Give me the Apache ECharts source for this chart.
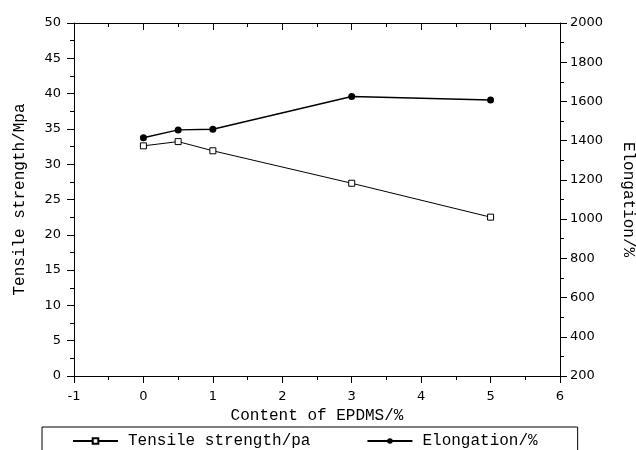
<!DOCTYPE html>
<html>
<head>
<meta charset="utf-8">
<script src="https://cdn.jsdelivr.net/npm/echarts@6/dist/echarts.min.js"></script>
<style>html,body{margin:0;padding:0;background:#fff;}#c{width:636px;height:450px;}</style>
</head>
<body>
<div id="c"></div>
<script>
var content = [0, 0.5, 1, 3, 5];
var tensile = [32.6, 33.2, 31.9, 27.3, 22.5];
var elongation = [1415, 1455, 1458, 1625, 1607];
var xName = 'Content of EPDMS/%';
var yLeftName = 'Tensile strength/Mpa';
var yRightName = 'Elongation/%';
var legendNames = ['Tensile strength/pa', 'Elongation/%'];

var mono = 'Liberation Mono';
var sans = 'DejaVu Sans';

function pairs(xs, ys) { return xs.map(function (x, i) { return [x, ys[i]]; }); }

var axisLine = { show: true, onZero: false, lineStyle: { color: '#000', width: 1 } };
var chart = echarts.init(document.getElementById('c'));
chart.setOption({
  animation: false,
  backgroundColor: '#fff',
  grid: { left: 74, right: 76, top: 23, bottom: 74, containLabel: false, outerBoundsMode: 'none' },
  legend: {
    data: legendNames,
    left: 42, top: 427,
    padding: [6, 40, 20, 30],
    borderColor: '#000', borderWidth: 1,
    itemWidth: 45, itemHeight: 7, itemGap: 56,
    textStyle: { fontFamily: mono, fontSize: 16, color: '#000', padding: [0, 0, 0, 5] }
  },
  xAxis: [{
    type: 'value', min: -1, max: 6, interval: 1, position: 'bottom',
    name: xName, nameLocation: 'middle', nameGap: 28,
    nameTextStyle: { fontFamily: mono, fontSize: 16, color: '#000' },
    axisLine: axisLine,
    axisTick: { show: true, inside: false, length: 7, lineStyle: { color: '#000' } },
    minorTick: { show: true, splitNumber: 2, length: 4, lineStyle: { color: '#000' } },
    axisLabel: { fontFamily: sans, fontSize: 13, color: '#000', margin: 14 },
    splitLine: { show: false }
  }, {
    type: 'value', min: -1, max: 6, interval: 1, position: 'top',
    axisLine: axisLine,
    axisTick: { show: true, inside: true, length: 7, lineStyle: { color: '#000' } },
    minorTick: { show: true, splitNumber: 2, length: 4, lineStyle: { color: '#000' } },
    axisLabel: { show: false },
    splitLine: { show: false }
  }],
  yAxis: [{
    type: 'value', min: 0, max: 50, interval: 5, position: 'left',
    name: yLeftName, nameLocation: 'middle', nameGap: 46,
    nameTextStyle: { fontFamily: mono, fontSize: 16, color: '#000' },
    axisLine: axisLine,
    axisTick: { show: true, inside: false, length: 7, lineStyle: { color: '#000' } },
    minorTick: { show: true, splitNumber: 2, length: 4, lineStyle: { color: '#000' } },
    axisLabel: { fontFamily: sans, fontSize: 13, color: '#000', margin: 13 },
    splitLine: { show: false }
  }, {
    type: 'value', min: 200, max: 2000, interval: 200, position: 'right',
    name: yRightName, nameLocation: 'middle', nameGap: 60, nameRotate: -90,
    nameTextStyle: { fontFamily: mono, fontSize: 16, color: '#000' },
    axisLine: axisLine,
    axisTick: { show: true, inside: false, length: 7, lineStyle: { color: '#000' } },
    minorTick: { show: true, splitNumber: 2, length: 4, lineStyle: { color: '#000' } },
    axisLabel: { fontFamily: sans, fontSize: 13, color: '#000', margin: 10,
      formatter: function (v) { return String(v); } },
    splitLine: { show: false }
  }],
  series: [{
    name: legendNames[0], type: 'line', xAxisIndex: 0, yAxisIndex: 0,
    data: pairs(content, tensile),
    symbol: 'rect', symbolSize: 6,
    lineStyle: { color: '#000', width: 1 },
    itemStyle: { color: '#fff', borderColor: '#000', borderWidth: 1 }
  }, {
    name: legendNames[1], type: 'line', xAxisIndex: 0, yAxisIndex: 1,
    data: pairs(content, elongation),
    symbol: 'circle', symbolSize: 7,
    lineStyle: { color: '#000', width: 1.4 },
    itemStyle: { color: '#000', borderColor: '#000', borderWidth: 0 }
  }]
});
</script>
</body>
</html>
